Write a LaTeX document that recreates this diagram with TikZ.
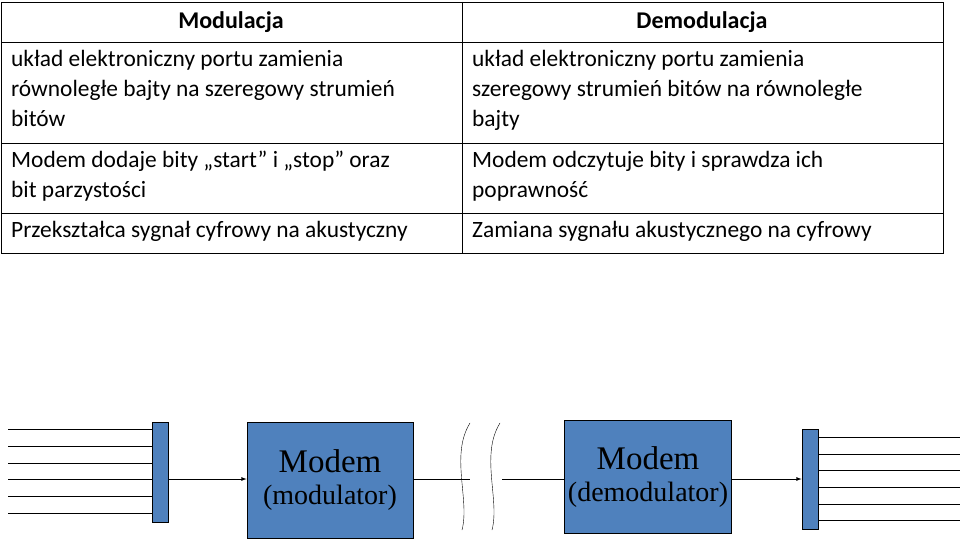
\documentclass[tikz,border=0pt]{standalone}
\usepackage{fontspec}
\setmainfont{Carlito}
\newfontfamily\serifmodem{Liberation Serif}
\usetikzlibrary{positioning}
\definecolor{modemblue}{RGB}{79,129,189}
\tikzset{
  cell/.style={anchor=north west, inner sep=0pt, align=left, font=\fontsize{23.4}{30}\selectfont},
  head/.style={font=\fontsize{24}{28}\selectfont\bfseries},
  modembox/.style={draw, fill=modemblue, thick, inner sep=0pt, align=center},
  busbar/.style={draw, fill=modemblue, thick, minimum width=16pt, minimum height=100pt, inner sep=0pt},
  wire/.style={thick},
}
\newcommand{\modemlabel}[1]{{\serifmodem\fontsize{33}{38}\selectfont Modem}\\[12pt]{\serifmodem\fontsize{28}{30}\selectfont (#1)}}
\begin{document}
\begin{tikzpicture}[x=1pt,y=-1pt]
\useasboundingbox (0,0) rectangle (960,545);
% table
\draw[thick] (1,2) rectangle (943,253);
\draw[thick] (462,2) -- (462,253);
\foreach \y in {42,143,213} \draw[thick] (1,\y) -- (943,\y);
\node[head] (hmod) at (231,22) {Modulacja};
\node[head] (hdem) at (702,22) {Demodulacja};
\node[cell] (m1) at (11,50) {układ elektroniczny portu zamienia\\równoległe bajty na szeregowy strumień\\bitów};
\node[cell] (m2) at (11,151) {Modem dodaje bity „start” i „stop” oraz\\bit parzystości};
\node[cell] (m3) at (11,221) {Przekształca sygnał cyfrowy na akustyczny};
\node[cell] (d1) at (472,50) {układ elektroniczny portu zamienia\\szeregowy strumień bitów na równoległe\\bajty};
\node[cell] (d2) at (472,151) {Modem odczytuje bity i sprawdza ich\\poprawność};
\node[cell] (d3) at (472,221) {Zamiana sygnału akustycznego na cyfrowy};
% bottom diagram
\node[busbar] (inbus) at (160,472) {};
\node[busbar] (outbus) at (810,479) {};
\node[modembox, minimum width=166pt, minimum height=116pt] (mod) at (330,480) {\modemlabel{modulator}};
\node[modembox, minimum width=167pt, minimum height=113pt] (dem) at (648,477) {\modemlabel{demodulator}};
\foreach \y in {429,446,463,479,496,513} \draw[wire] (8,\y) -- (inbus.west |- 0,\y);
\foreach \y in {437,454,470,487,504,520} \draw[wire] (outbus.east |- 0,\y) -- (960,\y);
\coordinate (gapl) at (470,479);
\coordinate (gapr) at (502,479);
\draw[wire,-latex] (inbus.east |- 0,479) -- (mod.west |- 0,479);
\draw[wire] (mod.east |- 0,479) -- (gapl);
\draw[wire] (gapr) -- (dem.west |- 0,479);
\draw[wire,-latex] (dem.east |- 0,479) -- (outbus.west |- 0,479);
\draw (470,423) .. controls (450,455) and (470,500) .. (462,530);
\draw (500,423) .. controls (480,455) and (500,500) .. (492,530);
\end{tikzpicture}
\end{document}
